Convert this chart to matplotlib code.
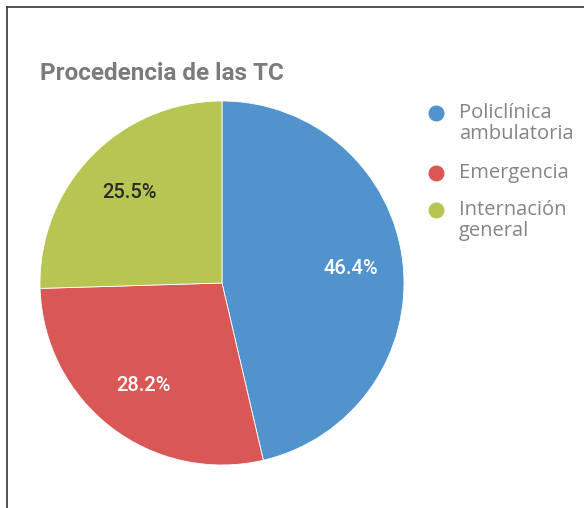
import matplotlib.pyplot as plt
from matplotlib.lines import Line2D

# data
categories = ["Policlínica\nambulatoria", "Emergencia", "Internación\ngeneral"]
values = [46.4, 28.2, 25.5]
colors = ["#5193cd", "#d95856", "#b7c553"]
label_colors = ["white", "white", "#2b2b2b"]
title = "Procedencia de las TC"

W, H = 584, 508
fig = plt.figure(figsize=(W / 100, H / 100), dpi=100)

# pie axes (center ~ (222, 283) px, radius ~182 px)
cx, cy, r = 222, 283, 182
ax = fig.add_axes([(cx - r) / W, (H - cy - r) / H, 2 * r / W, 2 * r / H])
wedges, texts, autotexts = ax.pie(
    values, colors=colors, startangle=90, counterclock=False,
    autopct="%.1f%%", pctdistance=0.71,
    wedgeprops=dict(edgecolor="white", linewidth=0.6),
    textprops=dict(family="Roboto", fontsize=14.5, weight="medium"))
for t, c in zip(autotexts, label_colors):
    t.set_color(c)
ax.set_xlim(-1, 1)
ax.set_ylim(-1, 1)
ax.set_aspect("equal")

# title
fig.text(40 / W, 1 - 73 / H, title, family="Roboto", weight="bold",
         fontsize=17.5, color="#7b7b7b", va="center", ha="left")

# legend drawn by hand so the marker sits on the first line
ly = [113, 173, 210]
for lab, col, y in zip(categories, colors, ly):
    fig.add_artist(Line2D([436 / W], [1 - y / H], marker="o", markersize=10.5,
                          color=col, linestyle="none", transform=fig.transFigure))
    fig.text(459 / W, 1 - (y - 10) / H, lab, family="Open Sans", fontsize=14.5,
             color="#858585", va="top", ha="left", linespacing=1.05)

# frame lines (top and left)
fig.add_artist(Line2D([7 / W, 1], [1 - 7 / H, 1 - 7 / H], color="#333333",
                      linewidth=1.2, transform=fig.transFigure))
fig.add_artist(Line2D([7 / W, 7 / W], [1 - 7 / H, 0], color="#333333",
                      linewidth=1.2, transform=fig.transFigure))

fig.savefig("out.png", dpi=100)
